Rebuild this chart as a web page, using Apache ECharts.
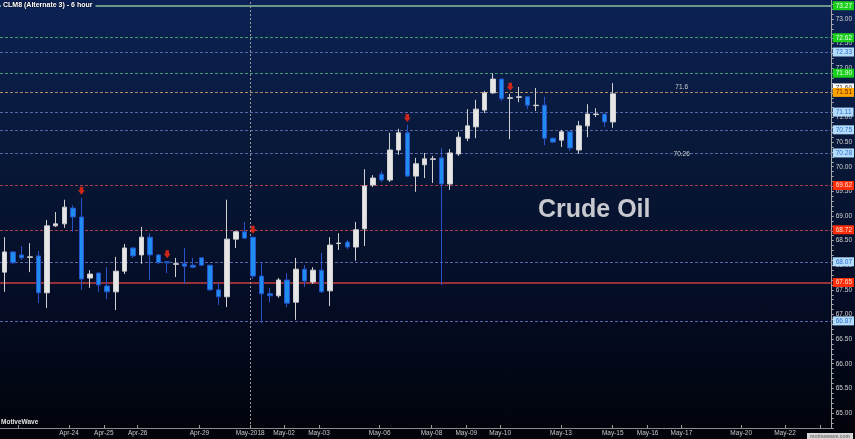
<!DOCTYPE html>
<html><head><meta charset="utf-8">
<script src="https://cdn.jsdelivr.net/npm/echarts@6/dist/echarts.min.js"></script>
<style>
html,body{margin:0;padding:0;background:#000;}
#c{width:855px;height:439px;background:linear-gradient(to bottom,#0c2254 0%,#081838 35%,#040c24 70%,#010309 100%);}
</style>
</head><body><div id="c"></div>
<script>
// ---- data ----
const open  = [67.86,68.27,68.21,68.16,68.19,67.44,68.80,68.84,69.16,68.98,67.74,67.84,67.58,67.46,67.88,68.35,68.21,68.57,68.21,68.07,68.02,68.03,68.00,68.15,68.00,67.50,67.36,68.53,68.68,68.57,67.78,67.42,67.38,67.70,67.25,67.92,67.66,67.90,67.48,68.44,68.47,68.37,68.74,69.63,69.85,69.73,70.34,70.69,69.81,70.04,70.15,70.18,69.65,70.26,70.58,70.81,71.15,71.50,71.78,71.39,71.41,71.42,71.24,71.25,70.58,70.54,70.71,70.34,70.83,71.06,71.07,70.91];
const close = [68.27,68.05,68.15,68.17,67.44,68.80,68.84,69.18,68.98,67.72,67.82,67.60,67.46,67.88,68.35,68.19,68.57,68.21,68.05,68.05,68.03,67.98,67.96,68.00,67.50,67.36,68.53,68.68,68.55,67.78,67.42,67.38,67.70,67.23,67.92,67.68,67.90,67.46,68.41,68.45,68.37,68.72,69.61,69.77,69.73,70.34,70.69,69.81,70.06,70.16,70.16,69.65,70.28,70.60,70.83,71.17,71.50,71.78,71.38,71.40,71.42,71.25,71.25,70.58,70.50,70.71,70.38,70.83,71.07,71.07,70.91,71.48];
const low   = [67.46,68.03,68.11,67.86,67.23,67.13,68.78,68.76,68.68,67.50,67.54,67.46,67.31,67.09,67.82,68.15,68.03,67.70,68.03,67.84,67.76,67.62,67.94,67.98,67.48,67.19,67.15,68.35,68.53,67.72,66.83,67.25,67.34,67.15,66.89,67.56,67.62,67.44,67.17,68.31,68.33,68.09,68.39,69.59,69.69,69.69,70.24,69.79,69.49,69.77,69.67,67.60,69.53,70.22,70.52,70.58,71.09,71.48,71.34,70.56,71.31,71.17,71.13,70.44,70.48,70.40,70.32,70.26,70.60,71.01,70.81,70.79];
const high  = [68.57,68.29,68.39,68.45,68.29,68.92,69.08,69.33,69.22,69.37,67.90,67.86,67.96,68.17,68.43,68.37,68.78,68.65,68.23,68.08,68.15,68.35,68.15,68.16,68.01,67.64,69.33,68.69,68.88,68.58,68.07,67.54,67.74,67.84,68.15,68.00,67.96,68.25,68.57,68.65,68.51,68.88,69.95,69.83,69.91,70.69,70.77,70.85,70.18,70.28,70.22,70.38,70.36,70.71,71.17,71.36,71.54,71.90,71.79,71.48,71.62,71.43,71.60,71.42,70.59,70.75,70.72,70.93,71.27,71.19,71.08,71.70];
const slotCount = 97;   // 6-hour bar slots on the time axis
const arrowBars = [9,19,29,47,59];
const levelValues = [73.27,72.62,72.33,71.90,71.60,71.51,71.11,70.75,70.28,69.62,68.72,68.07,67.65,66.87];
const levelKinds  = ['top','green','blue','green','last','orange','blue','blue','blue','red','red','blue','redSolid','blue'];
const dateTickPos    = [7.55,11.61,15.56,22.76,28.68,32.63,36.70,43.78,49.82,53.88,57.83,64.92,70.96,75.02,78.97,85.94,91.05];
const dateTickLabels = ['Apr-24','Apr-25','Apr-26','Apr-29','May-2018','May-02','May-03','May-06','May-08','May-09','May-10','May-13','May-15','May-16','May-17','May-20','May-22'];
const extraTickPos = [1.63,95.11];
const monthBreak = 28.68;
const yLabelValues = [65.0,65.5,66.0,66.5,67.0,67.5,68.0,68.5,69.0,69.5,70.0,70.5,71.0,71.5,72.0,72.5,73.0];
const noteBars = [79,79];
const noteValues = [71.62,70.26];
const noteTexts = ['71.6','70.26'];
const yMin = 64.695, yMax = 73.386;

// ---- build ----
const categories = Array.from({length: slotCount}, (_, i) => String(i));
const candles = open.map((o, i) => [o, close[i], low[i], high[i]]);
const yMinorTicks = [];
for (let k = 647; k <= 733; k++) yMinorTicks.push(k / 10);

const FONT = 'Liberation Sans, Arial, sans-serif';
const kindStyle = {
  top:      {line:'#6a9889', type:'solid', width:2,   bg:'#1ccf1c', fg:'#eaffea'},
  green:    {line:'#3e9c70', type:[3,2],   width:1,   bg:'#1ccf1c', fg:'#eaffea'},
  blue:     {line:'#5a66aa', type:[3,2],   width:1,   bg:'#b3dcfb', fg:'#2f6fd0'},
  last:     {line:'rgba(0,0,0,0)', type:'solid', width:1, bg:'#ffffff', fg:'#333333'},
  orange:   {line:'#b08a66', type:[3,2],   width:1,   bg:'#ffa400', fg:'#6a2400'},
  red:      {line:'#a5404e', type:[3,2],   width:1,   bg:'#ff2d0a', fg:'#ffe0d0'},
  redSolid: {line:'#c43c3c', type:'solid', width:1.5, bg:'#ff2d0a', fg:'#ffe0d0'}
};
const levelLines = levelValues.map((v, i) => {
  const s = kindStyle[levelKinds[i]];
  return {
    yAxis: v,
    lineStyle: {color: s.line, type: s.type, width: s.width},
    label: {show: true, position: 'end', distance: 1, formatter: v.toFixed(2),
            backgroundColor: s.bg, color: s.fg, fontSize: 6.5, fontFamily: FONT,
            padding: [1, 2, 1, 3]}
  };
});

const chart = echarts.init(document.getElementById('c'), null, {renderer: 'canvas'});
chart.setOption({
  backgroundColor: 'transparent',
  animation: false,
  title: [
    {text: 'CLM8 (Alternate 3) - 6 hour', left: 1, top: 1, padding: [1, 3, 1, 2],
     backgroundColor: '#0c2254',
     textStyle: {color: '#ffffff', fontSize: 7, fontWeight: 'bold', fontFamily: FONT,
                 textShadowColor: '#000', textShadowBlur: 2}},
    {text: 'Crude Oil', left: 538, top: 198, padding: 0,
     textStyle: {color: '#c8c9ce', fontSize: 25, fontWeight: 'bold', fontFamily: FONT}},
    {text: 'MotiveWave', left: 1, top: 419, padding: 0,
     textStyle: {color: '#e0e0e0', fontSize: 6.5, fontFamily: FONT}},
    {text: 'motivewave.com', right: 2, bottom: 0, padding: [1, 3, 0, 3],
     backgroundColor: '#d6d6d6',
     textStyle: {color: '#777777', fontSize: 5, fontFamily: FONT}}
  ],
  grid: {left: -2.3, right: 22, top: 0, bottom: 11, containLabel: false},
  xAxis: [
    {type: 'category', data: categories, boundaryGap: true, show: false},
    {type: 'value', min: -0.5, max: 96.5, position: 'bottom',
     axisLine: {show: true, onZero: false, lineStyle: {color: '#8a8a8a', width: 1}},
     axisTick: {show: true, inside: true, length: 3, customValues: dateTickPos.concat(extraTickPos),
                lineStyle: {color: '#9a9a9a'}},
     axisLabel: {show: true, customValues: dateTickPos, margin: 2, color: '#c8c8c8',
                 fontSize: 6.5, fontFamily: FONT,
                 formatter: (v) => {
                   const j = dateTickPos.findIndex(p => Math.abs(p - v) < 1e-6);
                   return j >= 0 ? dateTickLabels[j] : '';
                 }},
     splitLine: {show: false}}
  ],
  yAxis: [
    {type: 'value', position: 'right', min: yMin, max: yMax, scale: true,
     axisLine: {show: true, onZero: false, lineStyle: {color: '#a8a8a8', width: 1}},
     axisTick: {show: true, inside: false, length: 2, customValues: yMinorTicks,
                lineStyle: {color: '#a8a8a8'}},
     axisLabel: {show: true, customValues: yLabelValues, margin: 4, color: '#d2d2d2',
                 fontSize: 6.5, fontFamily: FONT, formatter: (v) => v.toFixed(2)},
     splitLine: {show: false}}
  ],
  series: [
    {
      type: 'candlestick', xAxisIndex: 0, yAxisIndex: 0, z: 3,
      data: candles, barWidth: 5,
      itemStyle: {color: '#e6e6e6', color0: '#1f8cf0', borderColor: '#d0d0d0',
                  borderColor0: '#2654c8', borderWidth: 1},
      markLine: {
        z: 1, silent: true, symbol: ['none', 'none'], animation: false,
        data: levelLines
      },
      markPoint: {
        z: 4, silent: true, symbol: 'circle', symbolSize: 1,
        itemStyle: {color: 'transparent'},
        label: {show: true, position: 'inside', color: '#d0d0d0', fontSize: 6.5, fontFamily: FONT,
                formatter: (p) => p.name},
        data: noteTexts.map((t, i) => ({name: t, coord: [noteBars[i], noteValues[i]]}))
      }
    },
    {
      type: 'scatter', xAxisIndex: 0, yAxisIndex: 0, z: 5, silent: true,
      data: arrowBars.map(i => [i, high[i]]),
      symbol: 'path://M2,0 L6,0 L6,4 L8,4 L4,9 L0,4 L2,4 Z',
      symbolSize: [7, 8], symbolOffset: [0, -7],
      itemStyle: {color: '#ff2a10'}
    },
    {
      type: 'line', xAxisIndex: 1, yAxisIndex: 0, data: [], silent: true,
      markLine: {
        z: 1, silent: true, symbol: ['none', 'none'],
        lineStyle: {color: '#9a9a9a', type: [2, 2], width: 1},
        label: {show: false},
        data: [{xAxis: monthBreak}]
      }
    }
  ]
});
</script>
</body></html>
